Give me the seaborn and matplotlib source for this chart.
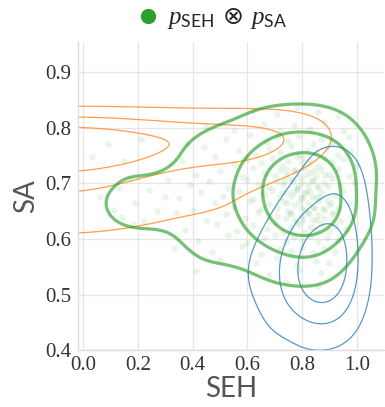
import numpy as np
import pandas as pd
import seaborn as sns
import matplotlib.pyplot as plt
from matplotlib.lines import Line2D

# ---- samples of the joint (SEH, SA) distribution ----
green_points = [
    (0.62, 0.832), (0.71, 0.826), (0.78, 0.838), (0.86, 0.829), (0.93, 0.822),
    (0.45, 0.803), (0.55, 0.797), (0.66, 0.808), (0.72, 0.795), (0.77, 0.806), (0.83, 0.799), (0.88, 0.811), (0.95, 0.794),
    (0.38, 0.772), (0.52, 0.781), (0.61, 0.787), (0.67, 0.774), (0.71, 0.783), (0.75, 0.777),
    (0.79, 0.786), (0.84, 0.771), (0.87, 0.780), (0.91, 0.775), (0.97, 0.784),
    (0.44, 0.765), (0.57, 0.758), (0.63, 0.751), (0.68, 0.763), (0.72, 0.756),
    (0.76, 0.767), (0.79, 0.753), (0.82, 0.761), (0.85, 0.757), (0.89, 0.764), (0.93, 0.752), (0.98, 0.759),
    (0.36, 0.742), (0.48, 0.747), (0.55, 0.735), (0.60, 0.744), (0.65, 0.737),
    (0.69, 0.746), (0.73, 0.732), (0.75, 0.741), (0.78, 0.748), (0.80, 0.736), (0.83, 0.743), (0.86, 0.731), (0.88, 0.745),
    (0.91, 0.738), (0.95, 0.744), (1.00, 0.734),
    (0.41, 0.715), (0.50, 0.722), (0.58, 0.711), (0.62, 0.727),
    (0.66, 0.718), (0.70, 0.714), (0.72, 0.725), (0.74, 0.716), (0.77, 0.723), (0.79, 0.712), (0.81, 0.728), (0.83, 0.719),
    (0.85, 0.713), (0.87, 0.724), (0.90, 0.717), (0.93, 0.726), (0.97, 0.714),
    (0.39, 0.698), (0.46, 0.704), (0.53, 0.692), (0.60, 0.707), (0.64, 0.699),
    (0.68, 0.694), (0.71, 0.705), (0.73, 0.697), (0.76, 0.708), (0.78, 0.691), (0.80, 0.702), (0.82, 0.696), (0.84, 0.707),
    (0.86, 0.693), (0.88, 0.701), (0.91, 0.709), (0.94, 0.695), (0.99, 0.703),
    (0.35, 0.674), (0.43, 0.685), (0.51, 0.678), (0.57, 0.686), (0.62, 0.672),
    (0.66, 0.681), (0.69, 0.688), (0.72, 0.675), (0.74, 0.684), (0.76, 0.677), (0.78, 0.689), (0.80, 0.673), (0.81, 0.682),
    (0.83, 0.687), (0.85, 0.676), (0.87, 0.684), (0.89, 0.671), (0.92, 0.680), (0.95, 0.686),
    (0.40, 0.652), (0.48, 0.664), (0.55, 0.657), (0.61, 0.668), (0.65, 0.654),
    (0.68, 0.663), (0.71, 0.656), (0.73, 0.669), (0.75, 0.651), (0.77, 0.661), (0.79, 0.667), (0.81, 0.653), (0.82, 0.664),
    (0.84, 0.658), (0.86, 0.668), (0.88, 0.652), (0.90, 0.661), (0.93, 0.656), (0.97, 0.665),
    (0.34, 0.647), (0.45, 0.634), (0.52, 0.645), (0.59, 0.638), (0.64, 0.648), (0.68, 0.633),
    (0.71, 0.642), (0.74, 0.637), (0.76, 0.646), (0.78, 0.631), (0.80, 0.641), (0.82, 0.649), (0.84, 0.635), (0.86, 0.644),
    (0.88, 0.638), (0.91, 0.647), (0.94, 0.633), (0.98, 0.642),
    (0.37, 0.616), (0.49, 0.627), (0.56, 0.614), (0.62, 0.625), (0.67, 0.618), (0.70, 0.628), (0.73, 0.612),
    (0.76, 0.621), (0.79, 0.626), (0.81, 0.613), (0.83, 0.622), (0.85, 0.617), (0.87, 0.627), (0.90, 0.615), (0.92, 0.624),
    (0.96, 0.618),
    (0.42, 0.596), (0.53, 0.607), (0.60, 0.593), (0.66, 0.602), (0.70, 0.608), (0.74, 0.595), (0.77, 0.603),
    (0.80, 0.597), (0.83, 0.606), (0.86, 0.594), (0.89, 0.601), (0.93, 0.598),
    (0.33, 0.584), (0.47, 0.576), (0.58, 0.587), (0.65, 0.573), (0.72, 0.582), (0.76, 0.578), (0.80, 0.586), (0.84, 0.574),
    (0.88, 0.583), (0.92, 0.577),
    (0.50, 0.563), (0.63, 0.556), (0.71, 0.565), (0.78, 0.553), (0.85, 0.561), (0.90, 0.557),
    (0.41, 0.543), (0.68, 0.536), (0.79, 0.545), (0.87, 0.538),
    (0.74, 0.523), (0.86, 0.516),
    (0.03, 0.748), (0.09, 0.772), (0.21, 0.781), (0.15, 0.741),
    (0.06, 0.676), (0.11, 0.652), (0.13, 0.691), (0.17, 0.708), (0.19, 0.664), (0.22, 0.632),
    (0.24, 0.689), (0.27, 0.651), (0.30, 0.676), (0.31, 0.707), (0.18, 0.627), (0.14, 0.639),
    (0.765, 0.705), (0.815, 0.715), (0.835, 0.675), (0.795, 0.655), (0.855, 0.695), (0.745, 0.665), (0.875, 0.655),
    (0.805, 0.635), (0.775, 0.725), (0.845, 0.725), (0.825, 0.645), (0.785, 0.695), (0.865, 0.675), (0.755, 0.645),
    (0.895, 0.695), (0.735, 0.705), (0.815, 0.685), (0.845, 0.655), (0.795, 0.675), (0.905, 0.665), (0.775, 0.635),
    (0.835, 0.705), (0.765, 0.685), (0.885, 0.715), (0.725, 0.685), (0.855, 0.635), (0.805, 0.745), (0.915, 0.645),
    (0.745, 0.725), (0.825, 0.735),
]
green_seh = [p[0] for p in green_points]
green_sa = [p[1] for p in green_points]

# ---- product-of-marginals densities given as weights on coarse grids ----
orange_seh_grid = [-0.3, -0.2, -0.1, 0.0, 0.1, 0.2, 0.3, 0.4, 0.5, 0.6, 0.7, 0.8, 0.9]
orange_sa_grid = [0.60, 0.63, 0.66, 0.69, 0.72, 0.75, 0.78, 0.81, 0.84, 0.87]
# one row per SEH grid value, each row running along SA
orange_profiles = [
    [1.5, 2.5, 3, 3.8, 6, 12, 12, 4.5, 1.2, 0.1],
    [1.5, 2.5, 3, 3.8, 6, 12, 12, 4.5, 1.2, 0.1],
    [1.5, 2.5, 3, 3.8, 6, 12, 12, 4.5, 1.2, 0.1],
    [1.5, 2.5, 3, 3.8, 6, 12, 12, 4.5, 1.2, 0.1],
    [1.3, 2.2, 2.8, 3.4, 5, 10, 10, 4.2, 1.2, 0.1],
    [1.2, 2, 2.5, 2.8, 4, 8, 8.5, 3.8, 1.2, 0.1],
    [1, 1.6, 2, 2.3, 3, 6, 7.5, 3.5, 1.3, 0.1],
    [1, 1.5, 2, 2, 2.6, 5, 6.5, 3.2, 1.3, 0.1],
    [0.8, 1.5, 2, 2, 2.6, 5, 6.5, 3.2, 1.3, 0.1],
    [0.5, 1.2, 1.8, 2, 2.6, 4.5, 6, 3.2, 1.3, 0.1],
    [0, 0.3, 0.8, 1.5, 2.5, 3.5, 4.5, 3.2, 1.5, 0],
    [0, 0, 0.2, 0.6, 1.5, 2.8, 3.8, 3.2, 1.2, 0],
    [0, 0, 0, 0.3, 0.7, 1.4, 2, 1.6, 0.5, 0],
]

blue_seh_grid = [0.55, 0.60, 0.65, 0.70, 0.75, 0.80, 0.85, 0.90, 0.95, 1.00, 1.05]
blue_sa_grid = [0.40, 0.44, 0.48, 0.52, 0.56, 0.60, 0.64, 0.68, 0.72, 0.76, 0.80]
blue_weights = [
    [0, 0, 0, 0, 0, 0.5, 0.5, 0.5, 0.3, 0, 0],
    [0, 0, 0.5, 1, 1.5, 2, 2.5, 2.5, 2, 1, 0],
    [0, 0.5, 1, 2, 3, 4, 5, 5, 4, 2, 0.3],
    [0.3, 1, 1.5, 2.5, 4, 6, 8, 8, 6, 3, 0.5],
    [0.3, 1, 1.5, 2.5, 4, 6, 9, 9, 7, 3, 0.5],
    [0, 0.5, 1, 2, 3, 5, 7, 7, 6, 3, 0.5],
    [0, 0, 0.5, 1, 2, 3, 4, 5, 4, 2.5, 0.3],
    [0, 0, 0, 0.5, 1, 1.5, 2, 3, 3, 2, 0.3],
    [0, 0, 0, 0, 0.5, 1, 1.5, 2, 2, 1.5, 0],
    [0, 0, 0, 0, 0, 0.5, 1, 1, 1, 0.5, 0],
    [0, 0, 0, 0, 0, 0, 0.3, 0.3, 0.3, 0, 0],
]

x_ticks = [0.0, 0.2, 0.4, 0.6, 0.8, 1.0]
y_ticks = [0.4, 0.5, 0.6, 0.7, 0.8, 0.9]

orange_rows = [(x, y, orange_profiles[j][i])
               for j, x in enumerate(orange_seh_grid)
               for i, y in enumerate(orange_sa_grid) if orange_profiles[j][i] > 0]
orange_df = pd.DataFrame(orange_rows, columns=["SEH", "SA", "w"])
blue_rows = [(x, y, blue_weights[i][j])
             for i, y in enumerate(blue_sa_grid)
             for j, x in enumerate(blue_seh_grid) if blue_weights[i][j] > 0]
blue_df = pd.DataFrame(blue_rows, columns=["SEH", "SA", "w"])
green_df = pd.DataFrame({"SEH": green_seh, "SA": green_sa})

sns.set_theme(style="whitegrid")
plt.rcParams["mathtext.fontset"] = "custom"
plt.rcParams["mathtext.it"] = "Liberation Serif:italic"
plt.rcParams["mathtext.rm"] = "Lato"

GREEN = "#2ca02c"
ORANGE = "#ff7f0e"
BLUE = "#1f77b4"

fig = plt.figure(figsize=(3.85, 4.07), dpi=100)
ax = fig.add_axes([0.2026, 0.14, 0.795, 0.757])

sns.scatterplot(data=green_df, x="SEH", y="SA", ax=ax, color=GREEN, alpha=0.1,
                s=22, linewidth=0, legend=False)
sns.kdeplot(data=orange_df, x="SEH", y="SA", weights="w", ax=ax, color=ORANGE,
            levels=4, thresh=0.15, bw_adjust=0.7, linewidths=0.9, alpha=0.75)
sns.kdeplot(data=blue_df, x="SEH", y="SA", weights="w", ax=ax, color=BLUE,
            levels=4, thresh=0.1, bw_adjust=0.8, linewidths=0.9, alpha=0.75)
sns.kdeplot(data=green_df, x="SEH", y="SA", ax=ax, color=GREEN,
            levels=[0.1, 0.4, 0.65], bw_adjust=1.0, linewidths=2.3, alpha=0.65)

ax.set_xlim(-0.02, 1.1)
ax.set_ylim(0.4, 0.955)
ax.set_xticks(x_ticks)
ax.set_yticks(y_ticks)
ax.set_xticklabels([f"{v:.1f}" for v in x_ticks], family="Liberation Serif", fontsize=15, color="#333333")
ax.set_yticklabels([f"{v:.1f}" for v in y_ticks], family="Liberation Serif", fontsize=15, color="#333333")
ax.tick_params(axis="x", length=0, pad=4)
ax.tick_params(axis="y", length=0, pad=5)
ax.set_xlabel("SEH", family="Lato", fontsize=20, color="#555555", labelpad=1)
ax.set_ylabel("SA", family="Lato", fontsize=20, color="#555555", labelpad=4)

ax.grid(True, color="#e6e6e6", linewidth=0.9)
for side in ["top", "right"]:
    ax.spines[side].set_visible(False)
for side in ["left", "bottom"]:
    ax.spines[side].set_color("#dddddd")
    ax.spines[side].set_linewidth(1.0)

handle = Line2D([], [], marker="o", linestyle="none", color=GREEN, markersize=10)
fig.legend(handles=[handle], labels=["$p_{\\mathrm{SEH}}$ \u2297 $p_{\\mathrm{SA}}$"],
           loc="center", bbox_to_anchor=(0.55, 0.955), frameon=False,
           handlelength=0.9, handletextpad=0.3, borderpad=0.2,
           prop={"family": ["DejaVu Sans"], "size": 18})

fig.savefig("out.png", dpi=100)
